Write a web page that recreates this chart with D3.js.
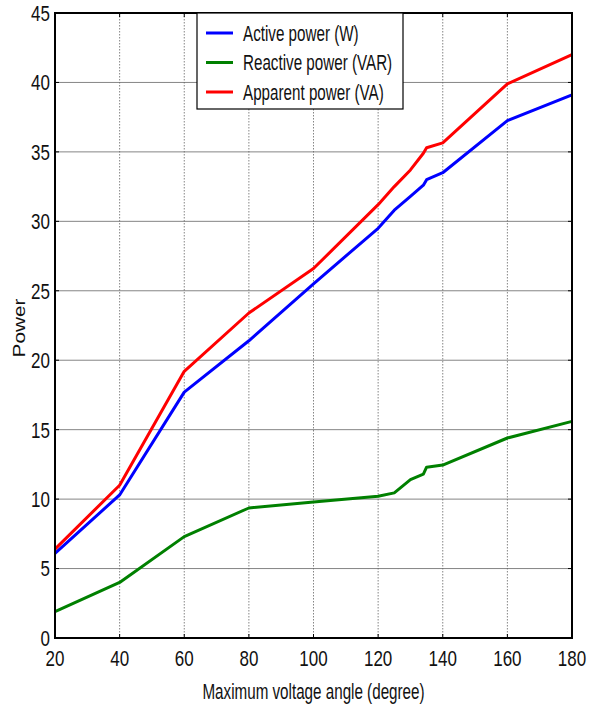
<!DOCTYPE html>
<html>
<head>
<meta charset="utf-8">
<script src="https://cdn.jsdelivr.net/npm/d3@7"></script>
<style>
  html, body { margin: 0; padding: 0; background: #fff; }
  svg { display: block; }
  .narrow { font-family: 'Liberation Sans Narrow', 'Arial Narrow', sans-serif; font-size: 17px; fill: #111; }
  .label { font-family: 'Liberation Sans Narrow', 'Arial Narrow', sans-serif; font-size: 15.2px; fill: #111; }
</style>
</head>
<body>
<svg id="chart" width="591" height="708"></svg>
<script>
// Voltage angle samples (degrees)
const angles = [20, 40, 60, 80, 100, 120, 125, 130, 134, 135, 140, 160, 180];
// Power values at each angle
const activePower   = [6.1, 10.3, 17.7, 21.4, 25.5, 29.5, 30.8, 31.8, 32.6, 33.0, 33.5, 37.25, 39.1];
const reactivePower = [1.9, 4.0, 7.3, 9.36, 9.8, 10.2, 10.45, 11.4, 11.8, 12.3, 12.45, 14.4, 15.6];
const apparentPower = [6.4, 11.0, 19.2, 23.4, 26.6, 31.2, 32.5, 33.7, 34.9, 35.3, 35.65, 39.9, 42.0];

const xTicks = [20, 40, 60, 80, 100, 120, 140, 160, 180];
const yTicks = [0, 5, 10, 15, 20, 25, 30, 35, 40, 45];

const seriesNames  = ["Active power (W)", "Reactive power (VAR)", "Apparent power (VA)"];
const seriesColors = ["#0000ff", "#008000", "#ff0000"];
const seriesValues = [activePower, reactivePower, apparentPower];

const svg = d3.select("#chart");
const plotL = 55, plotR = 572, plotT = 13, plotB = 638;
const stretch = 1.3;      // tick glyphs drawn slightly tall
const labelStretch = 1.45; // title and legend glyphs

const x = d3.scaleLinear().domain([20, 180]).range([plotL, plotR]);
const y = d3.scaleLinear().domain([0, 45]).range([plotB, plotT]);

// Grid: solid horizontal, dotted vertical
const grid = svg.append("g");
grid.selectAll("line.h").data(yTicks.slice(1, -1)).join("line")
  .attr("class", "h")
  .attr("x1", plotL).attr("x2", plotR)
  .attr("y1", d => y(d)).attr("y2", d => y(d))
  .attr("stroke", "#858585").attr("stroke-width", 1);
grid.selectAll("line.v").data(xTicks.slice(1, -1)).join("line")
  .attr("class", "v")
  .attr("y1", plotT).attr("y2", plotB)
  .attr("x1", d => x(d)).attr("x2", d => x(d))
  .attr("stroke", "#666").attr("stroke-width", 0.8)
  .attr("stroke-dasharray", "1.5,1.5");

// Inward ticks on all four sides
const tk = 4;
const ticks = svg.append("g").attr("stroke", "#000").attr("stroke-width", 1);
xTicks.forEach(t => {
  ticks.append("line").attr("x1", x(t)).attr("x2", x(t)).attr("y1", plotB).attr("y2", plotB - tk);
  ticks.append("line").attr("x1", x(t)).attr("x2", x(t)).attr("y1", plotT).attr("y2", plotT + tk);
});
yTicks.forEach(t => {
  ticks.append("line").attr("x1", plotL).attr("x2", plotL + tk).attr("y1", y(t)).attr("y2", y(t));
  ticks.append("line").attr("x1", plotR).attr("x2", plotR - tk).attr("y1", y(t)).attr("y2", y(t));
});

// Series lines
const line = d3.line().x((d, i) => x(angles[i])).y(d => y(d));
seriesValues.forEach((vals, k) => {
  svg.append("path").datum(vals)
    .attr("d", line)
    .attr("fill", "none")
    .attr("stroke", seriesColors[k])
    .attr("stroke-width", 3)
    .attr("stroke-linejoin", "round");
});

// Plot frame
svg.append("rect")
  .attr("x", plotL).attr("y", plotT)
  .attr("width", plotR - plotL).attr("height", plotB - plotT)
  .attr("fill", "none").attr("stroke", "#000").attr("stroke-width", 2);

// Tick labels
svg.append("g").selectAll("text").data(yTicks).join("text")
  .attr("class", "narrow")
  .attr("text-anchor", "end")
  .attr("dominant-baseline", "central")
  .attr("transform", d => `translate(50,${y(d)}) scale(1,${stretch})`)
  .text(d => d);
svg.append("g").selectAll("text").data(xTicks).join("text")
  .attr("class", "narrow")
  .attr("text-anchor", "middle")
  .attr("dominant-baseline", "central")
  .attr("transform", d => `translate(${x(d)},658) scale(1,${stretch})`)
  .text(d => d);

// Axis titles
svg.append("text")
  .attr("class", "label")
  .attr("text-anchor", "middle")
  .attr("dominant-baseline", "central")
  .attr("transform", `translate(${(plotL + plotR) / 2},691) scale(1,${labelStretch})`)
  .text("Maximum voltage angle (degree)");
svg.append("text")
  .attr("text-anchor", "middle")
  .attr("dominant-baseline", "central")
  .attr("font-family", "'Liberation Sans', Arial, sans-serif")
  .attr("font-size", 16)
  .attr("fill", "#111")
  .attr("transform", `translate(19,328) scale(1,${stretch}) rotate(-90)`)
  .text("Power");

// Legend
const legend = svg.append("g");
legend.append("rect")
  .attr("x", 197).attr("y", 13).attr("width", 206).attr("height", 96)
  .attr("fill", "#fff").attr("stroke", "#000").attr("stroke-width", 1.2);
seriesNames.forEach((name, k) => {
  const cy = 33 + k * 29.5;
  legend.append("line")
    .attr("x1", 206).attr("x2", 233).attr("y1", cy).attr("y2", cy)
    .attr("stroke", seriesColors[k]).attr("stroke-width", 3);
  legend.append("text")
    .attr("class", "label")
    .attr("dominant-baseline", "central")
    .attr("transform", `translate(243,${cy}) scale(1,${labelStretch})`)
    .text(name);
});
</script>
</body>
</html>
